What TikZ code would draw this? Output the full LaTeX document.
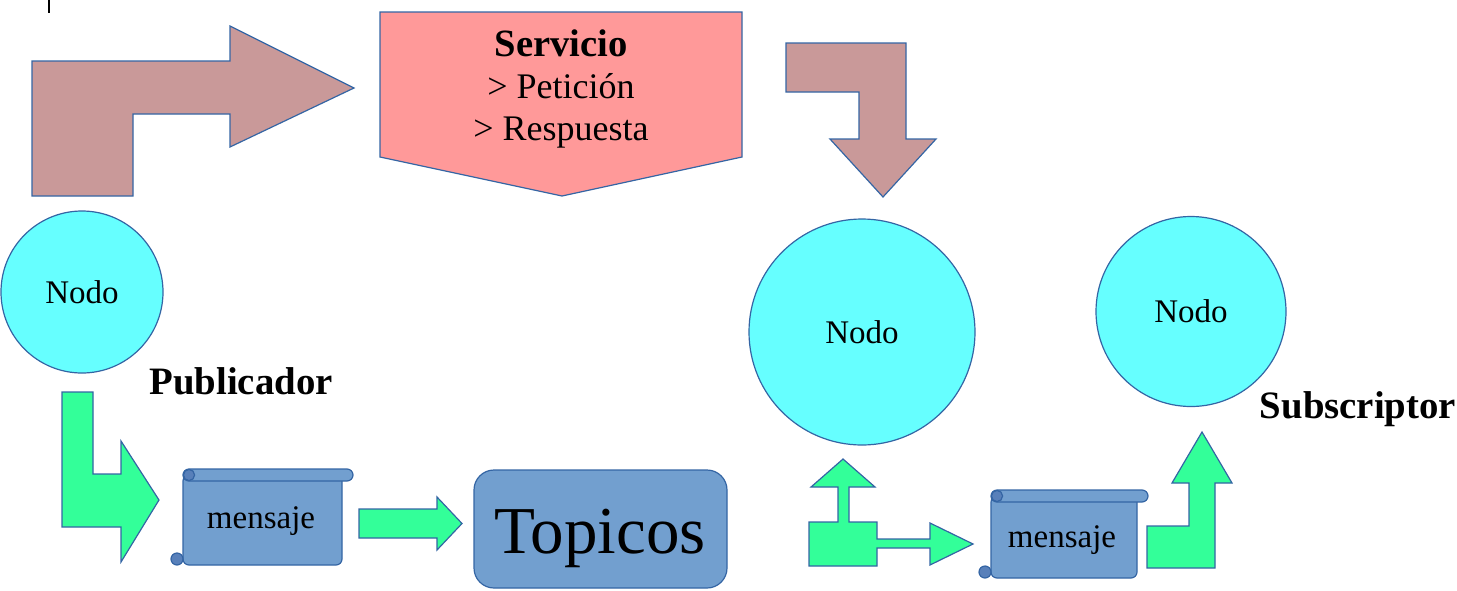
\documentclass[tikz,border=0pt]{standalone}
\usepackage{fontspec}
\setmainfont{Liberation Serif}
\definecolor{edgeblue}{RGB}{52,101,164}
\definecolor{brownfill}{RGB}{201,153,153}
\definecolor{pinkfill}{RGB}{255,153,153}
\definecolor{cyanfill}{RGB}{102,255,255}
\definecolor{greenfill}{RGB}{51,255,153}
\definecolor{bluefill}{RGB}{114,159,207}
\definecolor{curlfill}{RGB}{88,128,186}
\begin{document}
\begin{tikzpicture}[x=0.5pt,y=-0.5pt,line join=miter,
  outl/.style={draw=edgeblue,line width=0.6pt},
  brownarrow/.style={outl,fill=brownfill},
  greenarrow/.style={outl,fill=greenfill},
  bluebox/.style={outl,fill=bluefill},
  nodecircle/.style={circle,outl,fill=cyanfill,inner sep=0pt,font=\fontsize{16.5}{20}\selectfont},
  txt/.style={inner sep=0pt,anchor=base},
  boldlabel/.style={txt,font=\fontsize{19.4}{23}\selectfont\bfseries}]
\useasboundingbox (0,0) rectangle (1457,590);

% small tick at top left
\draw[line width=1pt] (49,0) coordinate (tickA) -- (49,13) coordinate (tickB);

% brown bent arrow (top left)
\draw[brownarrow] (32,196) -- (32,61) -- (230,61) -- (230,26) -- (354,88) -- (230,147) -- (230,114) -- (133,114) -- (133,196) -- cycle;

% Servicio pentagon
\draw[outl,fill=pinkfill] (380,12) -- (742,12) -- (742,157) -- (562,196) -- (380,157) -- cycle;
\node[txt,font=\fontsize{19.3}{23}\selectfont\bfseries] (serv) at (561,56) {Servicio};
\node[txt,font=\fontsize{18}{22}\selectfont] (pet) at (561,98) {> Petición};
\node[txt,font=\fontsize{18}{22}\selectfont] (resp) at (561,140) {> Respuesta};

% brown bent arrow (top right)
\draw[brownarrow] (786,43) -- (906,43) -- (906,139) -- (936,139) -- (883,197) -- (830,139) -- (859,139) -- (859,92) -- (786,92) -- cycle;

% circles
\node[nodecircle,minimum size=81pt] (n1) at (82,292) {Nodo};
\node[nodecircle,minimum size=113pt] (n2) at (862,332) {Nodo};
\node[nodecircle,minimum size=95pt] (n3) at (1191,311.5) {Nodo};

\node[boldlabel] (pub) at (241,394) {Publicador};
\node[boldlabel] (sub) at (1358,418) {Subscriptor};

% green bent arrow (left)
\draw[greenarrow] (62,392) -- (93,392) -- (93,474) -- (121,474) -- (121,441) -- (159,500) -- (121,562) -- (121,527) -- (62,527) -- cycle;

% left scroll
\draw[bluebox,rounded corners=3pt] (183,475) -- (183,565) -- (342,565) -- (342,475) -- cycle;
\draw[bluebox,rounded corners=3pt] (183,469) rectangle (353,481);
\draw[outl,fill=curlfill] (189,475) circle[radius=2.8pt];
\draw[outl,fill=curlfill] (177,559) circle[radius=3pt];
\node[txt,font=\fontsize{16.5}{20}\selectfont] (msg1) at (261,528) {mensaje};

% middle green arrow
\draw[greenarrow] (359,509) -- (437,509) -- (437,497) -- (462,523.5) -- (437,550) -- (437,538) -- (359,538) -- cycle;

% Topicos box
\draw[bluebox,rounded corners=10pt] (474,470) rectangle (727,588);
\node[txt,font=\fontsize{33.5}{40}\selectfont] (top) at (600,553) {Topicos};

% green up+right arrow
\draw[greenarrow] (809,522) -- (838,522) -- (838,487) -- (811,487) -- (843,459) -- (875,487) -- (849,487) -- (849,522) -- (877,522) -- (877,539) -- (930,539) -- (930,523) -- (973,544) -- (930,565) -- (930,548) -- (877,548) -- (877,566) -- (809,566) -- cycle;

% right scroll
\draw[bluebox,rounded corners=3pt] (991,496) -- (991,578) -- (1137,578) -- (1137,496) -- cycle;
\draw[bluebox,rounded corners=3pt] (991,490) rectangle (1148,502);
\draw[outl,fill=curlfill] (997,496) circle[radius=2.8pt];
\draw[outl,fill=curlfill] (985,572) circle[radius=3pt];
\node[txt,font=\fontsize{16.5}{20}\selectfont] (msg2) at (1062,547) {mensaje};

% green bent up arrow (right)
\draw[greenarrow] (1147,568) -- (1147,526) -- (1189,526) -- (1189,483) -- (1172,483) -- (1202,432) -- (1232,483) -- (1215,483) -- (1215,568) -- cycle;
\end{tikzpicture}
\end{document}
